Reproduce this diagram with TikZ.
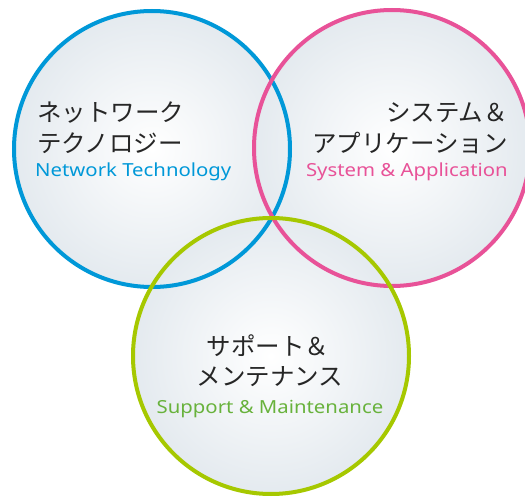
\documentclass[tikz,border=0pt]{standalone}
\usepackage{fontspec}
\setmainfont{Noto Sans}
\newfontfamily\jpfont{Noto Sans CJK JP}
\newfontfamily\enfont[FakeStretch=1.13]{Noto Sans}
\usetikzlibrary{positioning}
\definecolor{bluenet}{RGB}{0,152,216}
\definecolor{pinksys}{RGB}{232,82,152}
\definecolor{greensup}{RGB}{166,200,0}
\definecolor{greentxt}{RGB}{104,178,60}
\definecolor{greyrim}{RGB}{228,234,239}

\begin{document}
\begin{tikzpicture}[x=1pt,y=-1pt]
          \useasboundingbox (0,0) rectangle (525,497);
          \tikzstyle{bubble}=[circle, minimum size=276pt, inner sep=0pt, shading=radial, inner color=white, outer color=greyrim]
          \tikzstyle{ring}=[line width=4pt]
          \tikzstyle{jptext}=[inner sep=0pt, text=black!85, font=\jpfont\fontsize{24.5}{28}\selectfont]
          \tikzstyle{entext}=[inner sep=0pt, font=\enfont\fontsize{18}{21}\selectfont]

          % bubbles
          \node[bubble] (NT) at (152,149) {};
          \node[bubble] (SA) at (392,148) {};
          \node[bubble] (SM) at (271,356) {};

          % rims
          \draw[ring, bluenet] (NT.center) circle[radius=138pt];
          \draw[ring, pinksys] (SA.center) circle[radius=138pt];
          \draw[ring, greensup] (SM.center) circle[radius=138pt];

          % Network Technology
          \node[jptext, anchor=base west] (NT1) at (37,122) {ネットワーク};
          \node[jptext, anchor=base west] (NT2) at (37,153) {テクノロジー};
          \node[entext, anchor=base west, text=bluenet] (NT3) at (35,177) {Network Technology};

          % System & Application
          \node[jptext, anchor=base east] (SA1) at (508,122) {システム＆};
          \node[jptext, anchor=base east] (SA2) at (508,153) {アプリケーション};
          \node[entext, anchor=base east, text=pinksys] (SA3) at (508,177) {System \& Application};

          % Support & Maintenance
          \node[jptext, anchor=base] (SM1) at (268,355) {サポート＆};
          \node[jptext, anchor=base] (SM2) at (270,385) {メンテナンス};
          \node[entext, anchor=base, text=greentxt] (SM3) at (270,413) {Support \& Maintenance};
\end{tikzpicture}
\end{document}
